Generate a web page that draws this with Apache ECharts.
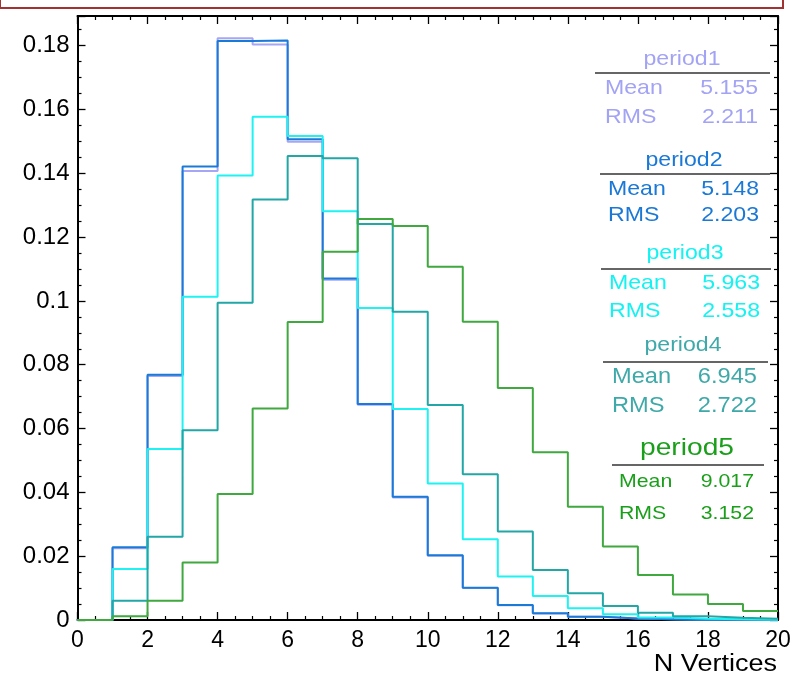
<!DOCTYPE html>
<html>
<head>
<meta charset="utf-8">
<script src="https://cdn.jsdelivr.net/npm/echarts@6/dist/echarts.min.js"></script>
<style>
  html, body { margin: 0; padding: 0; background: #ffffff; }
  #chart { width: 803px; height: 681px; }
</style>
</head>
<body>
<div id="chart"></div>
<script>
// Bin edges of the vertex-multiplicity histograms (20 unit bins)
const binEdges = [0, 1, 2, 3, 4, 5, 6, 7, 8, 9, 10, 11, 12, 13, 14, 15, 16, 17, 18, 19, 20];

// Normalised bin contents per period
const period1 = [0, 0.0225, 0.0765, 0.1407, 0.1823, 0.1804, 0.1499, 0.1066, 0.0675, 0.0384, 0.0201, 0.0100, 0.0046, 0.0020, 0.0010, 0.0005, 0.0002, 0.0001, 0.0001, 0.0000];
const period2 = [0, 0.0228, 0.0769, 0.1421, 0.1815, 0.1816, 0.1507, 0.1070, 0.0677, 0.0386, 0.0203, 0.0101, 0.0047, 0.0021, 0.0010, 0.0005, 0.0002, 0.0001, 0.0001, 0.0000];
const period3 = [0, 0.0160, 0.0536, 0.1013, 0.1393, 0.1577, 0.1517, 0.1281, 0.0978, 0.0661, 0.0428, 0.0253, 0.0136, 0.0075, 0.0037, 0.0018, 0.0008, 0.0004, 0.0002, 0.0001];
const period4 = [0, 0.0060, 0.0261, 0.0595, 0.0994, 0.1318, 0.1454, 0.1447, 0.1241, 0.0966, 0.0674, 0.0457, 0.0277, 0.0157, 0.0084, 0.0044, 0.0023, 0.0012, 0.0007, 0.0004];
const period5 = [0, 0.0012, 0.0060, 0.0180, 0.0395, 0.0663, 0.0934, 0.1154, 0.1257, 0.1235, 0.1107, 0.0935, 0.0727, 0.0526, 0.0355, 0.0230, 0.0141, 0.0080, 0.0050, 0.0028];

// Statistics boxes
const periodNames = ['period1', 'period2', 'period3', 'period4', 'period5'];
const periodMean = ['5.155', '5.148', '5.963', '6.945', '9.017'];
const periodRMS = ['2.211', '2.203', '2.558', '2.722', '3.152'];

const xTitle = 'N Vertices';
const xMin = 0, xMax = 20, xStep = 2;
const yMin = 0, yMax = 0.1893, yStep = 0.02;

const lineColors = ['#a6a6f7', '#1a7ad8', '#1ef2f2', '#22a6a6', '#3fa83f'];
const textColors = ['#a3a3f5', '#1a78d6', '#14f2f2', '#3fa9a9', '#1a9f1a'];
const allPeriods = [period1, period2, period3, period4, period5];

// Histogram outline: one point at each bin's left edge, plus the closing edge
function outline(vals) {
  const pts = vals.map((v, i) => [binEdges[i], v]);
  pts.push([binEdges[vals.length], vals[vals.length - 1]]);
  return pts;
}

const FONT = '"Liberation Sans", Arial, Helvetica, sans-serif';

// Layout of the five statistics boxes
const box = [
  { cx: 682, titleY: 59,  title: 21, lineY: 73,  x0: 595, x1: 770, meanY: 88,  rmsY: 117, lx: 605, rx: 758, fs: 21,   sx: 1.1 },
  { cx: 684, titleY: 160, title: 21, lineY: 174, x0: 600, x1: 770, meanY: 189, rmsY: 215, lx: 608, rx: 759, fs: 21,   sx: 1.1 },
  { cx: 685, titleY: 253, title: 21, lineY: 269, x0: 601, x1: 771, meanY: 283, rmsY: 311, lx: 609, rx: 760, fs: 21,   sx: 1.1 },
  { cx: 683, titleY: 345, title: 21, lineY: 362, x0: 603, x1: 768, meanY: 377, rmsY: 406, lx: 612, rx: 757, fs: 21.5, sx: 1.1 },
  { cx: 687, titleY: 448, title: 24.5, lineY: 465, x0: 612, x1: 764, meanY: 482, rmsY: 514, lx: 619, rx: 754, fs: 18.5, sx: 1.15 }
];

function txt(x, y, text, size, color, align, sx) {
  return {
    type: 'text', x: x, y: y, scaleX: sx, z: 100,
    style: {
      text: text, fill: color, font: size + 'px ' + FONT,
      align: align, verticalAlign: 'middle',
      textAlign: align, textVerticalAlign: 'middle'
    }
  };
}

const graphics = [];
// frame of the canvas above the pad
graphics.push({
  type: 'rect', z: 100,
  shape: { x: 0, y: -12, width: 783, height: 20 },
  style: { fill: 'none', stroke: '#a33333', lineWidth: 2 }
});
periodNames.forEach((name, i) => {
  const b = box[i];
  graphics.push(txt(b.cx, b.titleY, name, b.title, textColors[i], 'center', b.sx));
  graphics.push({
    type: 'line', z: 100,
    shape: { x1: b.x0, y1: b.lineY, x2: b.x1, y2: b.lineY },
    style: { stroke: '#333333', lineWidth: 1.5 }
  });
  graphics.push(txt(b.lx, b.meanY, 'Mean', b.fs, textColors[i], 'left', b.sx));
  graphics.push(txt(b.rx, b.meanY, periodMean[i], b.fs, textColors[i], 'right', b.sx));
  graphics.push(txt(b.lx, b.rmsY, 'RMS', b.fs, textColors[i], 'left', b.sx));
  graphics.push(txt(b.rx, b.rmsY, periodRMS[i], b.fs, textColors[i], 'right', b.sx));
});
graphics.push(txt(777, 665, xTitle, 23.5, '#000000', 'right', 1.15));

const axisLine = { show: true, onZero: false, lineStyle: { color: '#000000', width: 2 } };
const axisTick = { show: true, inside: true, length: 8, lineStyle: { color: '#000000', width: 1.3 } };
const minorTick = { show: true, splitNumber: 4, length: 4, lineStyle: { color: '#000000', width: 1.2 } };

function xAx(pos, labels) {
  return {
    type: 'value', position: pos, min: xMin, max: xMax, interval: xStep,
    axisLine: axisLine, axisTick: axisTick, minorTick: minorTick,
    splitLine: { show: false }, minorSplitLine: { show: false },
    axisLabel: labels ? { show: true, color: '#000000', fontSize: 23, fontFamily: FONT, margin: 9 } : { show: false }
  };
}
function yAx(pos, labels) {
  return {
    type: 'value', position: pos, min: yMin, max: yMax, interval: yStep,
    axisLine: axisLine, axisTick: axisTick, minorTick: minorTick,
    splitLine: { show: false }, minorSplitLine: { show: false },
    axisLabel: labels ? { show: true, color: '#000000', fontSize: 24, fontFamily: FONT, margin: 8, showMaxLabel: false,
      formatter: v => String(Math.round(v * 1000) / 1000) } : { show: false }
  };
}

const chart = echarts.init(document.getElementById('chart'), null, { renderer: 'canvas' });
chart.setOption({
  animation: false,
  backgroundColor: '#ffffff',
  grid: { left: 77.5, right: 25, top: 16, bottom: 61 },
  xAxis: [xAx('bottom', true), xAx('top', false)],
  yAxis: [yAx('left', true), yAx('right', false)],
  series: allPeriods.map((vals, i) => ({
    name: periodNames[i],
    type: 'line',
    step: 'end',
    data: outline(vals),
    symbol: 'none',
    clip: true,
    lineStyle: { color: lineColors[i], width: 2 },
    z: 2 + i
  })),
  graphic: graphics
});
</script>
</body>
</html>
